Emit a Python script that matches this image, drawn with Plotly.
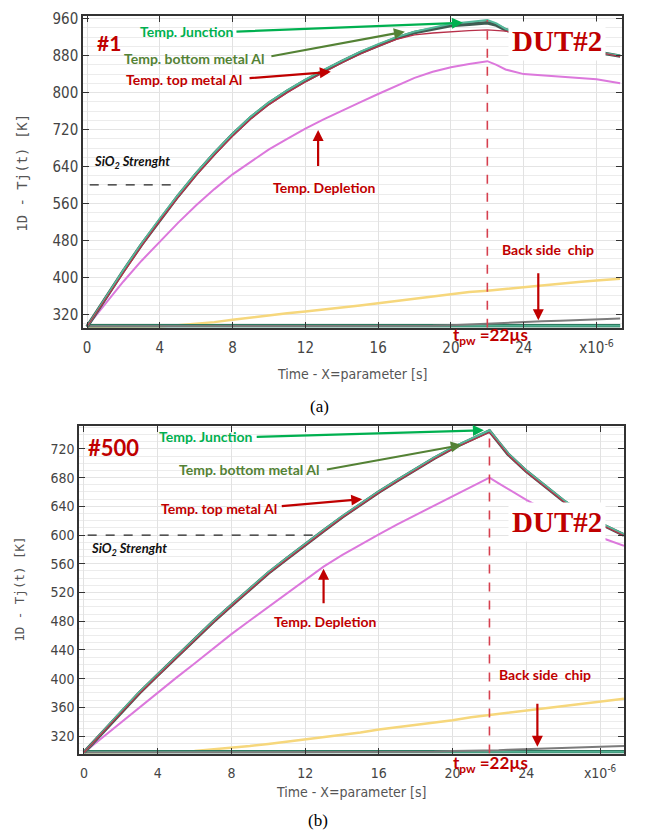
import plotly.graph_objects as go

W, H = 648, 836

# ---------------- data ----------------
t = [0, 1, 2, 3, 4, 5, 6, 7, 8, 9, 10, 11, 12, 13, 14, 15, 16, 17, 18, 19, 20, 21, 22,
     22.5, 23, 24, 25, 26, 27, 28, 29.3]

# panel (a)  "#1"
junction_a = [293, 356, 416, 473, 527, 578, 626, 670, 711, 748, 779, 805, 828, 849, 869, 888, 905, 920,
              932, 941, 949, 953, 957, 950, 938, 925, 912, 903, 895, 888, 880]
bottom_a = [293, 354, 414, 471, 525, 576, 624, 668, 709, 746, 777, 803, 826, 847, 867, 886, 903, 918,
            930, 938, 945, 948, 951, 946, 936, 924, 912, 903, 895, 888, 879]
top_a = [293, 351, 411, 468, 522, 573, 621, 665, 706, 743, 774, 800, 823, 844, 864, 883, 900, 915,
         925, 929, 932, 934, 936, 935, 933, 925, 915, 905, 896, 888, 878]
depl_a = [293, 343, 391, 436, 478, 518, 556, 591, 623, 651, 677, 700, 722, 742, 761, 779, 797, 815,
          832, 845, 855, 862, 868, 860, 850, 840, 837, 835, 832, 829, 820]
yellow_a = [293, 293, 293, 293, 294, 296, 299, 303, 308, 313, 317, 322, 326, 330, 334, 339, 344, 349,
            354, 359, 364, 368, 371, 373, 375, 379, 383, 386, 390, 393, 397]
back_a = [294, 294, 294, 294, 294, 294, 294, 294, 294, 294, 294, 294, 294, 294, 294, 294, 294, 294,
          294, 295, 296, 298, 300, 301, 302, 303, 305, 306, 308, 309, 311]
amb_t = [0, 29.3]
amb_a = [295, 295]

# panel (b)  "#500"
junction_b = [297, 326, 354, 381, 406, 431, 456, 480, 503, 526, 548, 568, 588, 607, 626, 644, 661, 677,
              693, 708, 722, 734, 746, 730, 714, 690, 669, 649, 632, 617, 601]
bottom_b = [297, 325, 353, 380, 405, 430, 455, 479, 502, 525, 547, 567, 587, 606, 625, 643, 660, 676,
            692, 707, 721, 733, 745, 729, 713, 689, 668, 648, 631, 616, 600]
top_b = [297, 324, 352, 379, 404, 429, 454, 478, 501, 524, 546, 566, 586, 605, 624, 642, 659, 675,
         691, 706, 720, 732, 743, 728, 712, 688, 667, 647, 630, 615, 599]
depl_b = [297, 318, 339, 360, 380, 401, 421, 442, 462, 481, 500, 519, 538, 556, 572, 587, 601, 615,
          628, 641, 654, 667, 680, 672, 664, 649, 635, 622, 609, 597, 585]
yellow_b = [297, 297, 297, 297, 297, 298, 299, 301, 303, 306, 309, 312, 315, 318, 322, 325, 329, 332,
            336, 339, 342, 346, 349, 351, 352, 356, 359, 362, 365, 368, 372]
back_b = [297, 297, 297, 297, 297, 297, 297, 297, 297, 297, 297, 297, 297, 297, 297, 297, 297, 297,
          298, 298, 299, 299, 300, 300, 301, 302, 302, 303, 304, 305, 306]
amb_b = [298, 298]

x_tickvals = [0, 4, 8, 12, 16, 20, 24, 28]
x_ticktext = ["0", "4", "8", "12", "16", "20", "24", "x10<sup>-6</sup>"]
y_ticks_a = [320, 400, 480, 560, 640, 720, 800, 880, 960]
y_ticks_b = [320, 360, 400, 440, 480, 520, 560, 600, 640, 680, 720]

TPW = 22
SIO2 = 600
XRANGE_A = [-0.22, 29.4]
YRANGE_A = [291, 966]
XRANGE_B = [-0.27, 29.3]
YRANGE_B = [295.5, 752]

# ---------------- colours ----------------
C_YEL = "#f6d77c"
C_BACK = "#7b7b7b"
C_AMB = "#2c7a60"
C_AMB2 = "#5fc2a2"
C_DEPL = "#dc78dc"
C_BOT = "#3f5c52"
C_JUN = "#55b99b"
C_TOP = "#b8304a"
RED = "#c00000"
GREEN = "#00b050"
OLIVE = "#548235"


def px(x):
    return x / W


def py(y):
    return 1 - y / H


fig = go.Figure()


def add_panel(xa, ya, jun, bot, top, depl, yel, back, amb):
    kw = dict(xaxis=xa, yaxis=ya, mode="lines", hoverinfo="skip", showlegend=False)
    fig.add_trace(go.Scatter(x=t, y=yel, line=dict(color=C_YEL, width=2.5), **kw))
    fig.add_trace(go.Scatter(x=amb_t, y=amb, line=dict(color=C_AMB, width=3.5), **kw))
    fig.add_trace(go.Scatter(x=amb_t, y=amb, line=dict(color=C_AMB2, width=1.2), **kw))
    fig.add_trace(go.Scatter(x=t, y=back, line=dict(color=C_BACK, width=2), **kw))
    fig.add_trace(go.Scatter(x=t, y=depl, line=dict(color=C_DEPL, width=2), **kw))
    fig.add_trace(go.Scatter(x=t, y=bot, line=dict(color=C_BOT, width=3.5), **kw))
    fig.add_trace(go.Scatter(x=t, y=jun, line=dict(color=C_JUN, width=2), **kw))
    fig.add_trace(go.Scatter(x=t, y=top, line=dict(color=C_TOP, width=1.3), **kw))


add_panel("x", "y", junction_a, bottom_a, top_a, depl_a, yellow_a, back_a, amb_a)
add_panel("x2", "y2", junction_b, bottom_b, top_b, depl_b, yellow_b, back_b, amb_b)

COND = "DejaVu Sans Condensed, Liberation Sans Narrow, Roboto"
tickfont_a = dict(family=COND, size=15, color="#444")
tickfont_b = dict(family=COND, size=14, color="#444")

common_x = dict(tickvals=x_tickvals, ticktext=x_ticktext, showline=True, linecolor="#333", linewidth=1.5,
                mirror="allticks", ticks="inside", ticklen=6, tickcolor="#333", showgrid=True,
                gridcolor="#e2e2e2", zeroline=False, ticklabelstandoff=6)
common_y = dict(showline=True, linecolor="#333", linewidth=1.5, mirror="allticks", ticks="inside",
                ticklen=6, tickcolor="#333", showgrid=True, gridcolor="#e4e4e4", zeroline=False)

fig.update_layout(
    width=W, height=H, margin=dict(l=0, r=0, t=0, b=0),
    paper_bgcolor="white", plot_bgcolor="white", showlegend=False,
    xaxis=dict(domain=[px(83), px(622)], range=XRANGE_A, anchor="y", tickfont=tickfont_a, **common_x),
    yaxis=dict(domain=[py(324), py(10)], range=YRANGE_A, anchor="x", tickvals=y_ticks_a,
               tickfont=tickfont_a, minor=dict(dtick=20, showgrid=True, gridcolor="#ececec"), **common_y),
    xaxis2=dict(domain=[px(79), px(624)], range=XRANGE_B, anchor="y2", tickfont=tickfont_b, **common_x),
    yaxis2=dict(domain=[py(753), py(423)], range=YRANGE_B, anchor="x2", tickvals=y_ticks_b,
                tickfont=tickfont_b, minor=dict(dtick=10, showgrid=True, gridcolor="#ececec"), **common_y),
)

shapes = []
# SiO2 strength dashed lines
shapes.append(dict(type="line", xref="x", yref="y", x0=0.15, x1=5.1, y0=SIO2, y1=SIO2,
                   line=dict(color="#222", width=1.3, dash="dash")))
shapes.append(dict(type="line", xref="x2", yref="y2", x0=0.2, x1=12.5, y0=SIO2, y1=SIO2,
                   line=dict(color="#222", width=1.3, dash="dash")))
# tpw vertical dashed lines
shapes.append(dict(type="line", xref="x", yref="y", x0=TPW, x1=TPW, y0=YRANGE_A[0], y1=max(junction_a),
                   line=dict(color="#d6404f", width=1.6, dash="dash")))
shapes.append(dict(type="line", xref="x2", yref="y2", x0=TPW, x1=TPW, y0=YRANGE_B[0], y1=max(junction_b),
                   line=dict(color="#d6404f", width=1.6, dash="dash")))
fig.update_layout(shapes=shapes)

ann = []


def arrow(xr, yr, x0, y0, x1, y1, color):
    ann.append(dict(xref=xr, yref=yr, axref=xr, ayref=yr, x=x1, y=y1, ax=x0, ay=y0, text="",
                    showarrow=True, arrowhead=2, arrowsize=1, arrowwidth=2.2, arrowcolor=color,
                    standoff=0, startstandoff=0))


def text(x, y, s, color, size, family="Lato", bold=True, italic=False, **kw):
    if bold:
        s = "<b>" + s + "</b>"
    if italic:
        s = "<i>" + s + "</i>"
    d = dict(xref="paper", yref="paper", x=px(x), y=py(y), text=s, showarrow=False,
             xanchor="center", yanchor="middle", font=dict(family=family, size=size, color=color))
    d.update(kw)
    ann.append(d)


# arrows panel (a)
arrow("x", "y", 8.13, 932, 20.66, 951, GREEN)
arrow("x", "y", 10.05, 878, 17.47, 932, OLIVE)
arrow("x", "y", 8.85, 831, 13.4, 845, RED)
arrow("x", "y", 12.7, 638, 12.7, 719, RED)
arrow("x", "y", 24.8, 412, 24.8, 307, RED)
# arrows panel (b)
arrow("x2", "y2", 9.29, 736.6, 21.7, 746, GREEN)
arrow("x2", "y2", 13.1, 691, 20.5, 725.5, OLIVE)
arrow("x2", "y2", 10.65, 640, 15.1, 650, RED)
arrow("x2", "y2", 13.0, 503, 13.0, 553, RED)
arrow("x2", "y2", 24.6, 367, 24.6, 305, RED)

# texts panel (a)
text(109, 37, "#1", RED, 21)
text(187, 26, "Temp. Junction", GREEN, 14)
text(194, 53, "Temp. bottom metal Al", OLIVE, 14)
text(184, 74, "Temp. top metal Al", RED, 14)
text(324, 183, "Temp. Depletion", RED, 14)
text(132, 157, "SiO<sub>2</sub> Strenght", "#111", 13, italic=True)
text(557, 35, "DUT#2", RED, 29, family="Liberation Serif", bgcolor="white", borderpad=3)
text(548, 245, "Back side  chip", RED, 14)
text(490, 332, "t<sub>pw</sub> =22µs", RED, 17)
text(319, 403, "(a)", "#000", 17, family="Liberation Serif", bold=False)
text(352, 371, "Time - X=parameter [s]", "#555", 14, family=COND, bold=False)
text(22, 168, "1D - Tj(t) [K]", "#555", 14, family="DejaVu Sans Mono", bold=False, textangle=-90)

# texts panel (b)
text(113, 445, "#500", RED, 22)
text(206, 434, "Temp. Junction", GREEN, 14)
text(249, 467, "Temp. bottom metal Al", OLIVE, 14)
text(219, 506, "Temp. top metal Al", RED, 14)
text(129, 547, "SiO<sub>2</sub> Strenght", "#111", 13, italic=True)
text(325, 620, "Temp. Depletion", RED, 14)
text(557, 520, "DUT#2", RED, 29, family="Liberation Serif", bgcolor="white", borderpad=3)
text(545, 673, "Back side  chip", RED, 14)
text(490, 763, "t<sub>pw</sub> =22µs", RED, 17)
text(318, 820, "(b)", "#000", 17, family="Liberation Serif", bold=False)
text(351, 792, "Time - X=parameter [s]", "#555", 14, family=COND, bold=False)
text(20, 588, "1D - Tj(t) [K]", "#555", 12.5, family="DejaVu Sans Mono", bold=False, textangle=-90)

fig.update_layout(annotations=ann)

fig.write_html("out.html")
